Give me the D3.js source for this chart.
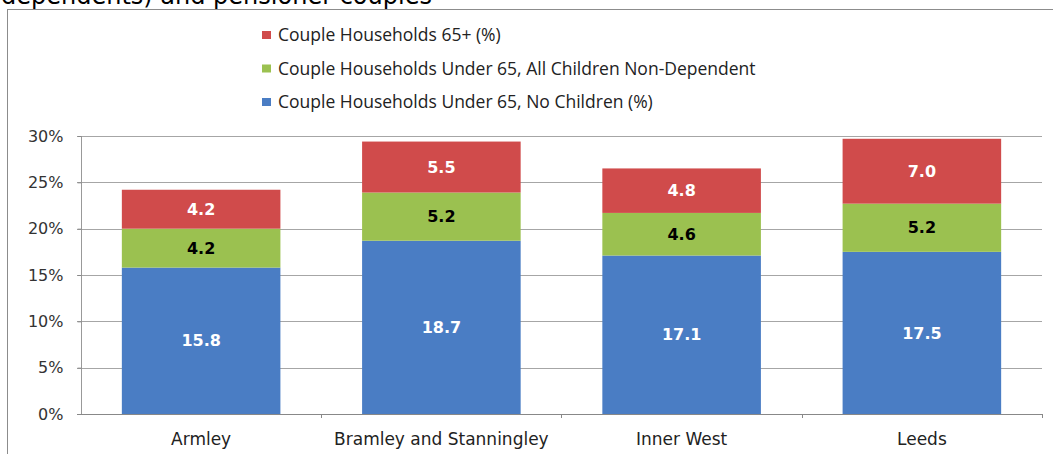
<!DOCTYPE html>
<html>
<head>
<meta charset="utf-8">
<script src="https://cdn.jsdelivr.net/npm/d3@7"></script>
<style>
  body { margin: 0; background: #fff; }
  svg { display: block; }
</style>
</head>
<body>
<script>
var categories = ["Armley", "Bramley and Stanningley", "Inner West", "Leeds"];
var seriesNames = [
    "Couple Households Under 65, No Children (%)",
    "Couple Households Under 65, All Children Non-Dependent",
    "Couple Households 65+ (%)"
];
var noChildren = [15.8, 18.7, 17.1, 17.5];
var nonDependent = [4.2, 5.2, 4.6, 5.2];
var over65 = [4.2, 5.5, 4.8, 7.0];
var yTicks = [0, 5, 10, 15, 20, 25, 30];

var colors = ["#4a7dc4", "#9bc150", "#d04b4b"];
var labelColors = ["#ffffff", "#000000", "#ffffff"];

var width = 1053, height = 454;
var marginLeft = 81, marginRight = 11, marginTop = 136, marginBottom = 40;

var svg = d3.select("body").append("svg")
    .attr("width", width)
    .attr("height", height);

// cut-off title from the page above
svg.append("text")
    .attr("x", 1)
    .attr("y", 4)
    .attr("font-family", "DejaVu Sans, Verdana, sans-serif")
    .attr("font-size", 24)
    .attr("fill", "#000")
    .text("dependents) and pensioner couples");

// chart frame
svg.append("rect")
    .attr("x", 7.5)
    .attr("y", 9.5)
    .attr("width", 1060)
    .attr("height", 460)
    .attr("fill", "none")
    .attr("stroke", "#8c8c8c")
    .attr("stroke-width", 1);

var table = categories.map(function(c, i){
    return { name: c, s0: noChildren[i], s1: nonDependent[i], s2: over65[i] };
});
var stacked = d3.stack().keys(["s0", "s1", "s2"])(table);

var x = d3.scaleBand()
    .domain(categories)
    .range([marginLeft, width - marginRight])
    .paddingInner(0.34)
    .paddingOuter(0.17);

var y = d3.scaleLinear()
    .domain([0, 30])
    .range([height - marginBottom, marginTop]);

// gridlines
svg.append("g")
    .selectAll("line")
    .data(yTicks)
    .enter()
    .append("line")
    .attr("x1", marginLeft - 4)
    .attr("x2", width - marginRight)
    .attr("y1", function(d){ return Math.round(y(d)) + 0.5; })
    .attr("y2", function(d){ return Math.round(y(d)) + 0.5; })
    .attr("stroke", function(d){ return d == 0 ? "#888" : "#a6a6a6"; })
    .attr("stroke-width", 1);

// y axis
var yAxis = svg.append("g")
    .attr("transform", "translate(" + (marginLeft + 0.5) + ",0)")
    .call(d3.axisLeft(y).tickValues(yTicks).tickSize(4).tickPadding(14)
        .tickFormat(function(d){ return d + "%"; }));
yAxis.select(".domain").attr("stroke", "#999").attr("d", "M0," + y(30) + "V" + y(0));
yAxis.selectAll(".tick line").attr("stroke", "#888");
yAxis.selectAll("text")
    .attr("font-family", "DejaVu Sans, Verdana, sans-serif")
    .attr("font-size", 16)
    .attr("fill", "#333");

// x axis
var xAxis = svg.append("g")
    .attr("transform", "translate(0," + (Math.round(y(0)) + 0.5) + ")")
    .call(d3.axisBottom(x).tickSize(0).tickPadding(18));
xAxis.select(".domain").remove();
xAxis.selectAll("text")
    .attr("font-family", "DejaVu Sans, Verdana, sans-serif")
    .attr("font-size", 17)
    .attr("fill", "#222");

var step = x.step();
svg.append("g")
    .selectAll("line")
    .data(categories)
    .enter()
    .append("line")
    .attr("x1", function(d){ return Math.round(x(d) + x.bandwidth() + (step - x.bandwidth()) / 2) + 0.5; })
    .attr("x2", function(d){ return Math.round(x(d) + x.bandwidth() + (step - x.bandwidth()) / 2) + 0.5; })
    .attr("y1", y(0))
    .attr("y2", y(0) + 4)
    .attr("stroke", "#888");

// bars
var layers = svg.append("g")
    .selectAll("g")
    .data(stacked)
    .enter()
    .append("g")
    .attr("fill", function(d, i){ return colors[i]; });

layers.selectAll("rect")
    .data(function(d){ return d; })
    .enter()
    .append("rect")
    .attr("x", function(d){ return x(d.data.name); })
    .attr("y", function(d){ return y(d[1]); })
    .attr("width", x.bandwidth())
    .attr("height", function(d){ return y(d[0]) - y(d[1]); });

layers.selectAll("text")
    .data(function(d, i){ return d.map(function(p){ return { p: p, i: i }; }); })
    .enter()
    .append("text")
    .attr("x", function(d){ return x(d.p.data.name) + x.bandwidth() / 2; })
    .attr("y", function(d){ return (y(d.p[0]) + y(d.p[1])) / 2; })
    .attr("dy", "0.35em")
    .attr("text-anchor", "middle")
    .attr("font-family", "DejaVu Sans, Verdana, sans-serif")
    .attr("font-weight", "bold")
    .attr("font-size", 16)
    .attr("fill", function(d){ return labelColors[d.i]; })
    .text(function(d){ return (d.p[1] - d.p[0]).toFixed(1); });

// legend, top entry is the top series
var legendOrder = [2, 1, 0];
var legend = svg.append("g")
    .selectAll("g")
    .data(legendOrder)
    .enter()
    .append("g")
    .attr("transform", function(d, i){ return "translate(262," + (35 + i * 33.5) + ")"; });

legend.append("rect")
    .attr("x", 0)
    .attr("y", -4)
    .attr("width", 9)
    .attr("height", 8)
    .attr("fill", function(d){ return colors[d]; });

legend.append("text")
    .attr("x", 16)
    .attr("dy", "0.35em")
    .attr("font-family", "Open Sans, sans-serif")
    .attr("font-size", 17.5)
    .attr("fill", "#222")
    .text(function(d){ return seriesNames[d]; });
</script>
</body>
</html>
